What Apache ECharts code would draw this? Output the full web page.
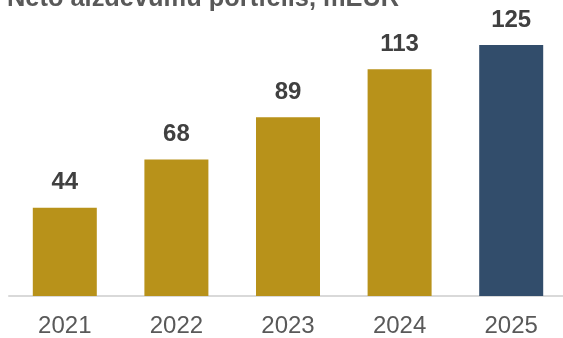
<!DOCTYPE html>
<html>
<head>
<meta charset="utf-8">
<script src="https://cdn.jsdelivr.net/npm/echarts@6/dist/echarts.min.js"></script>
<style>
  html, body { margin: 0; padding: 0; background: #fff; overflow: hidden; }
  #chart { width: 580px; height: 338px; }
</style>
</head>
<body>
<div id="chart"></div>
<script>
// Net loan portfolio by year, million EUR
const years = ['2021', '2022', '2023', '2024', '2025'];
const portfolio = [44, 68, 89, 113, 125];
const gold = '#B8921A';
const navy = '#324D6B';

const chart = echarts.init(document.getElementById('chart'));
chart.setOption({
  animation: false,
  title: {
    text: 'Neto aizdevumu portfelis, mEUR',
    left: 7,
    top: -14,
    padding: 0,
    textStyle: {
      fontFamily: 'Liberation Sans, Arial, sans-serif',
      fontSize: 25.4,
      fontWeight: 'bold',
      color: '#595959'
    }
  },
  grid: { left: 9, width: 558, top: 15, bottom: 41, containLabel: false },
  xAxis: {
    type: 'category',
    data: years,
    axisLine: { lineStyle: { color: '#D9D9D9', width: 2 } },
    axisTick: { show: false },
    axisLabel: {
      margin: 18,
      fontFamily: 'Liberation Sans, Arial, sans-serif',
      fontSize: 24,
      color: '#595959'
    }
  },
  yAxis: {
    type: 'value',
    min: 0,
    max: 140,
    show: false,
    splitLine: { show: false }
  },
  series: [{
    type: 'bar',
    barWidth: 64,
    data: portfolio.map((v, i) => ({
      value: v,
      itemStyle: { color: i === portfolio.length - 1 ? navy : gold }
    })),
    label: {
      show: true,
      position: 'top',
      distance: 13,
      fontFamily: 'Liberation Sans, Arial, sans-serif',
      fontSize: 24,
      fontWeight: 'bold',
      color: '#404040'
    }
  }]
});
</script>
</body>
</html>
